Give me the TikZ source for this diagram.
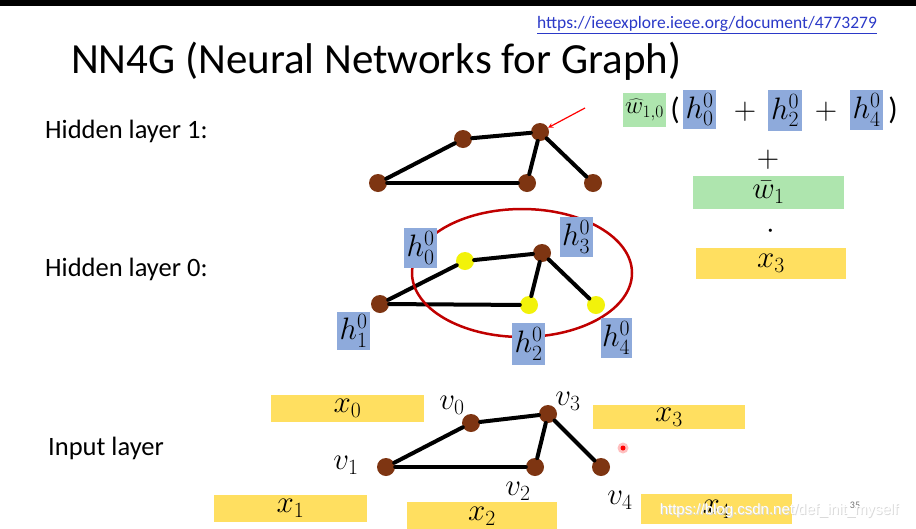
\RequirePackage{fix-cm}
\documentclass[tikz,border=0pt]{standalone}
\usepackage{fontspec}
\setmainfont{Carlito}
\newfontfamily\wmfont{Liberation Sans}
\usepackage{tikz}
\usetikzlibrary{arrows,positioning}
\definecolor{hblue}{HTML}{8EAADB}
\definecolor{wgreen}{HTML}{AEE5AE}
\definecolor{xyellow}{HTML}{FFDF60}
\definecolor{vbrown}{HTML}{7E3512}
\definecolor{vyellow}{HTML}{F2F20A}
\definecolor{ringred}{HTML}{C00000}
\definecolor{urlblue}{HTML}{2B39C8}

\begin{document}
\begin{tikzpicture}[x=1pt,y=-1pt]
	\tikzstyle{vtx} = [circle, fill=vbrown, minimum size=18, inner sep=0]
	\tikzstyle{vtxon} = [circle, fill=vyellow, minimum size=18, inner sep=0]
	\tikzstyle{edge} = [line width=4, line cap=round]
	\tikzstyle{mathtxt} = [font=\fontsize{31}{31}\selectfont, inner sep=0]
	\tikzstyle{hbox} = [mathtxt, fill=hblue, minimum width=33, minimum height=40]
	\tikzstyle{xbox} = [mathtxt, fill=xyellow, minimum width=152, minimum height=27]
	\tikzstyle{wbox} = [mathtxt, fill=wgreen]
	\tikzstyle{layername} = [anchor=base west, font=\fontsize{26.5}{27}\selectfont, inner sep=0]
	\useasboundingbox (0,0) rectangle (916,528);
	\fill[white] (0,0) rectangle (916,528);
	\fill[black] (0,0) rectangle (916,6);
	
	\node[anchor=base west, inner sep=0, font=\fontsize{43}{43}\selectfont] (title) at (71,73) {NN4G (Neural Networks for Graph)};
	\node[inner sep=0, text=urlblue, font=\fontsize{17.5}{18}\selectfont] (url) at (707,25) {\underline{https://ieeexplore.ieee.org/document/4773279}};
	
	\node[layername] (lay1) at (45,138) {Hidden layer 1:};
	\node[layername] (lay0) at (45,276) {Hidden layer 0:};
	\node[layername] (lay00) at (48,455) {Input layer};
	
	% hidden layer 1
	\node[vtx] (A0) at (463,139) {};
	\node[vtx] (A1) at (378,183) {};
	\node[vtx] (A2) at (527,183) {};
	\node[vtx] (A3) at (540,132) {};
	\node[vtx] (A4) at (593,183) {};
	\draw[edge] (A1) -- (A0);
	\draw[edge] (A0) -- (A3);
	\draw[edge] (A1) -- (A2);
	\draw[edge] (A2) -- (A3);
	\draw[edge] (A3) -- (A4);
	\coordinate (pointer) at (585,108);
	\draw[red, line width=1.2, -stealth] (pointer) -- (A3);
	
	% hidden layer 0
	\node[vtxon] (B0) at (465,261) {};
	\node[vtx] (B1) at (380,304) {};
	\node[vtxon] (B2) at (529,305) {};
	\node[vtx] (B3) at (542,253) {};
	\node[vtxon] (B4) at (596,305) {};
	\draw[edge] (B1) -- (B0);
	\draw[edge] (B0) -- (B3);
	\draw[edge] (B1) -- (B2);
	\draw[edge] (B2) -- (B3);
	\draw[edge] (B3) -- (B4);
	\draw[ringred, line width=2.5] (522,273) ellipse [x radius=110, y radius=64];
	
	\node[hbox] (h0) at (420.5,248) {$h^0_0$};
	\node[hbox] (h3) at (576,237) {$h^0_3$};
	\node[hbox, minimum height=38] (h1) at (353.5,331) {$h^0_1$};
	\node[hbox, minimum height=42] (h2) at (528.5,344) {$h^0_2$};
	\node[hbox, minimum width=31] (h4) at (616,338) {$h^0_4$};
	
	% input layer
	\node[vtx] (C0) at (471,423) {};
	\node[vtx] (C1) at (386,467) {};
	\node[vtx] (C2) at (535,467) {};
	\node[vtx] (C3) at (548,414) {};
	\node[vtx] (C4) at (601,467) {};
	\draw[edge] (C1) -- (C0);
	\draw[edge] (C0) -- (C3);
	\draw[edge] (C1) -- (C2);
	\draw[edge] (C2) -- (C3);
	\draw[edge] (C3) -- (C4);
	
	\node[mathtxt] (v0) at (452,405) {$v_0$};
	\node[mathtxt] (v1) at (346,465) {$v_1$};
	\node[mathtxt] (v2) at (518,491) {$v_2$};
	\node[mathtxt] (v3) at (568,401) {$v_3$};
	\node[mathtxt] (v4) at (620,500) {$v_4$};
	
	\node[xbox, minimum width=153] (x0) at (347.5,408.5) {$x_0$};
	\node[xbox, minimum height=24] (x3) at (669,417) {$x_3$};
	\node[xbox, minimum width=153] (x1) at (290.5,508.5) {$x_1$};
	\node[xbox, minimum width=150, minimum height=28] (x2) at (482,516) {$x_2$};
	\node[xbox, minimum width=151, minimum height=30] (x4) at (716.5,509) {$x_4$};
	
	% update of h_3 in layer 1
	\node[wbox, minimum width=43, minimum height=34, font=\fontsize{25}{25}\selectfont] (w10) at (644.5,110) {$\widehat{w}_{1,0}$};
	\node[mathtxt] (lpar) at (675,110) {(};
	\node[hbox, minimum height=39] (f0) at (699.5,109.5) {$h^0_0$};
	\node[mathtxt] (plus1) at (745,112) {$+$};
	\node[hbox, minimum width=34, minimum height=41] (f2) at (785,110.5) {$h^0_2$};
	\node[mathtxt] (plus2) at (826,112) {$+$};
	\node[hbox] (f4) at (866.5,110) {$h^0_4$};
	\node[mathtxt] (rpar) at (893,110) {)};
	\node[mathtxt] (plus3) at (768,160) {$+$};
	\node[wbox, minimum width=151, minimum height=33] (wbar) at (768.5,192.5) {$\bar{w}_1$};
	\node[mathtxt] (dot) at (771,232) {$\cdot$};
	\node[xbox, minimum width=150, minimum height=31] (fx3) at (771,263.5) {$x_3$};
	
	% laser dot and page marks
	\fill[red!25] (623,448) circle (5.5);
	\fill[red] (623,448) circle (2.5);
	\node[inner sep=0, text=black!55, font=\fontsize{10}{10}\selectfont] (pagenum) at (855,505) {35};
	\node[inner sep=0, text=black!15, font=\wmfont\fontsize{15}{15}\selectfont] (wmshadow) at (780,512) {https://blog.csdn.net/def\_init\_myself};
	\node[inner sep=0, text=white, font=\wmfont\fontsize{15}{15}\selectfont] (wm) at (779,511) {https://blog.csdn.net/def\_init\_myself};
\end{tikzpicture}
\end{document}
